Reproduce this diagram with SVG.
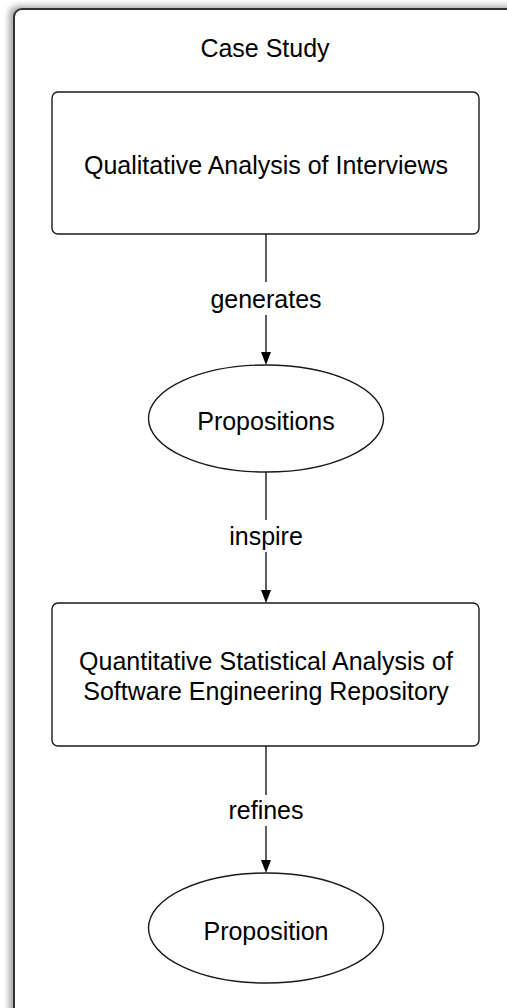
<svg xmlns="http://www.w3.org/2000/svg" width="507" height="1008" viewBox="0 0 507 1008">
<style>
.t{font-family:"Liberation Sans",Arial,Helvetica,sans-serif;font-size:25px;fill:#000;text-anchor:middle}
.n{fill:#fff;stroke:#1a1a1a;stroke-width:1.4}
.c{stroke:#1a1a1a;stroke-width:1.4;fill:none}
.a{fill:#000}
</style>
<defs>
<filter id="sh" x="-10%" y="-10%" width="120%" height="120%">
<feDropShadow dx="-4" dy="-2" stdDeviation="3" flood-color="#000" flood-opacity="0.35"/>
</filter>
</defs>
<rect width="507" height="1008" fill="#fff"/>
<g id="case-study">
<rect x="14" y="9" width="520" height="1020" rx="8" fill="#fff" stroke="#333" stroke-width="2" filter="url(#sh)"/>
<text class="t" x="265" y="57">Case Study</text>
</g>
<g id="connectors">
<line class="c" x1="266" y1="234" x2="266" y2="282"/>
<line class="c" x1="266" y1="315" x2="266" y2="352"/>
<path class="a" d="M261,352 L271,352 L266,365 z"/>
<text class="t" x="266" y="308">generates</text>
<line class="c" x1="266" y1="472" x2="266" y2="520"/>
<line class="c" x1="266" y1="552" x2="266" y2="590"/>
<path class="a" d="M261,590 L271,590 L266,603 z"/>
<text class="t" x="266" y="545">inspire</text>
<line class="c" x1="266" y1="746" x2="266" y2="795"/>
<line class="c" x1="266" y1="826" x2="266" y2="860"/>
<path class="a" d="M261,860 L271,860 L266,873 z"/>
<text class="t" x="266" y="819">refines</text>
</g>
<g id="qualitative">
<rect class="n" x="52" y="92" width="427" height="142" rx="6"/>
<text class="t" x="266" y="174">Qualitative Analysis of Interviews</text>
</g>
<g id="propositions">
<ellipse class="n" cx="266" cy="418.5" rx="117.5" ry="53.5"/>
<text class="t" x="266" y="430">Propositions</text>
</g>
<g id="quantitative">
<rect class="n" x="52" y="603" width="427" height="143" rx="6"/>
<text class="t" x="266" y="670">Quantitative Statistical Analysis of</text>
<text class="t" x="266" y="700">Software Engineering Repository</text>
</g>
<g id="proposition">
<ellipse class="n" cx="266" cy="928" rx="117.5" ry="55"/>
<text class="t" x="266" y="940">Proposition</text>
</g>
</svg>
